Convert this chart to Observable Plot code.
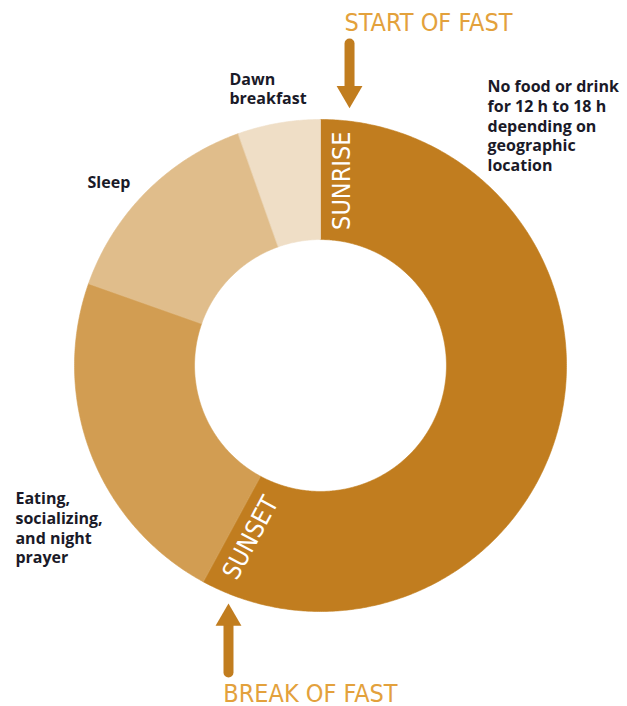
<!DOCTYPE html>
<html><head><meta charset="utf-8">
<script src="https://cdn.jsdelivr.net/npm/d3@7"></script>
<script src="https://cdn.jsdelivr.net/npm/@observablehq/plot@0.6"></script>
<style>body{margin:0;background:#fff}</style>
</head><body><div id="chart"></div>
<script>
// Data: a 24-hour day during Ramadan, clockwise from sunrise (12 o'clock)
const segments = ["Fasting", "Eating, socializing, and night prayer", "Sleep", "Dawn breakfast"];
const hours = [13.9, 5.4, 3.4, 1.3];
const colors = ["#C17D1F", "#D29D52", "#E0BD8B", "#EFDEC6"];
const innerRatio = 0.512;

// Callout labels (unit-circle coordinates, y up)
const calloutText = [
  "No food or drink\nfor 12 h to 18 h\ndepending on\ngeographic\nlocation",
  "Dawn\nbreakfast",
  "Sleep",
  "Eating,\nsocializing,\nand night\nprayer"
];
const calloutX = [0.679, -0.370, -0.947, -1.240];
const calloutY = [1.167, 1.199, 0.780, -0.508];

// Boundary markers inside the fasting segment
const markerText = ["SUNRISE", "SUNSET"];
const markerRotate = [-90, -62];

// Titles and arrows
const titleText = ["START OF FAST", "BREAK OF FAST"];
const titleX = [0.439, -0.041];
const titleY = [1.358, -1.366];
const arrowX = [0.118, -0.374];
const arrowTail = [1.309, -1.248];
const arrowHead = [1.106, -1.028];
const arrowRotate = [180, 0];

// Build donut segments
const total = d3.sum(hours);
let cum = 0;
const arcPts = [];
const bounds = [];
hours.forEach((h, i) => {
  const a0 = cum / total * 2 * Math.PI;
  cum += h;
  const a1 = cum / total * 2 * Math.PI;
  bounds.push([a0, a1]);
  const n = Math.max(8, Math.ceil((a1 - a0) / (Math.PI / 360)));
  for (let k = 0; k <= n; k++) {
    const a = a0 + (a1 - a0) * k / n;
    arcPts.push({seg: segments[i], x: Math.sin(a), y: Math.cos(a)});
  }
  for (let k = n; k >= 0; k--) {
    const a = a0 + (a1 - a0) * k / n;
    arcPts.push({seg: segments[i], x: innerRatio * Math.sin(a), y: innerRatio * Math.cos(a)});
  }
});

const midR = (1 + innerRatio) / 2;
const off = 6.5 * Math.PI / 180;
const markerAngles = [bounds[0][0] + off, bounds[0][1] - off];
const markers = markerText.map((t, i) => ({
  text: t, rotate: markerRotate[i],
  x: midR * Math.sin(markerAngles[i]), y: midR * Math.cos(markerAngles[i])
}));
const callouts = calloutText.map((t, i) => ({text: t, x: calloutX[i], y: calloutY[i]}));
const titles = titleText.map((t, i) => ({text: t, x: titleX[i], y: titleY[i]}));
const shafts = [];
arrowX.forEach((x, i) => {
  shafts.push({id: i, x, y: arrowTail[i]});
  shafts.push({id: i, x, y: arrowHead[i]});
});
const heads = arrowX.map((x, i) => ({x, y: arrowHead[i], rotate: arrowRotate[i]}));

const condensed = "'Liberation Sans Narrow', 'DejaVu Sans Condensed', 'Arial Narrow', Lato, sans-serif";

const chart = Plot.plot({
  width: 627,
  height: 706,
  marginLeft: 74,
  marginRight: 61,
  marginTop: 119,
  marginBottom: 95,
  x: {domain: [-1, 1], axis: null},
  y: {domain: [-1, 1], axis: null},
  style: {background: "#fff", overflow: "visible"},
  marks: [
    ...segments.map((s, i) => Plot.line(arcPts.filter(d => d.seg === s), {
      x: "x", y: "y", fill: colors[i], stroke: colors[i], strokeWidth: 0.6, curve: "linear-closed"
    })),
    Plot.text(markers, {
      x: "x", y: "y", text: "text", rotate: "rotate", fill: "#fff",
      fontSize: 25, fontFamily: condensed, textAnchor: "middle"
    }),
    Plot.text(callouts, {
      x: "x", y: "y", text: "text", fill: "#1a1a28", fontSize: 16, fontWeight: "bold",
      fontFamily: "'Open Sans', sans-serif", textAnchor: "start", lineAnchor: "top", lineHeight: 1.23
    }),
    Plot.text(titles, {
      x: "x", y: "y", text: "text", fill: "#E3A13C", fontSize: 25,
      fontFamily: condensed, textAnchor: "middle", lineAnchor: "bottom"
    }),
    Plot.line(shafts, {x: "x", y: "y", z: "id", stroke: "#C17D1F", strokeWidth: 10}),
    Plot.dot(heads, {x: "x", y: "y", symbol: "triangle", r: 9.6, rotate: "rotate", fill: "#C17D1F", stroke: null})
  ]
});
document.getElementById("chart").appendChild(chart);
</script>
</body></html>
